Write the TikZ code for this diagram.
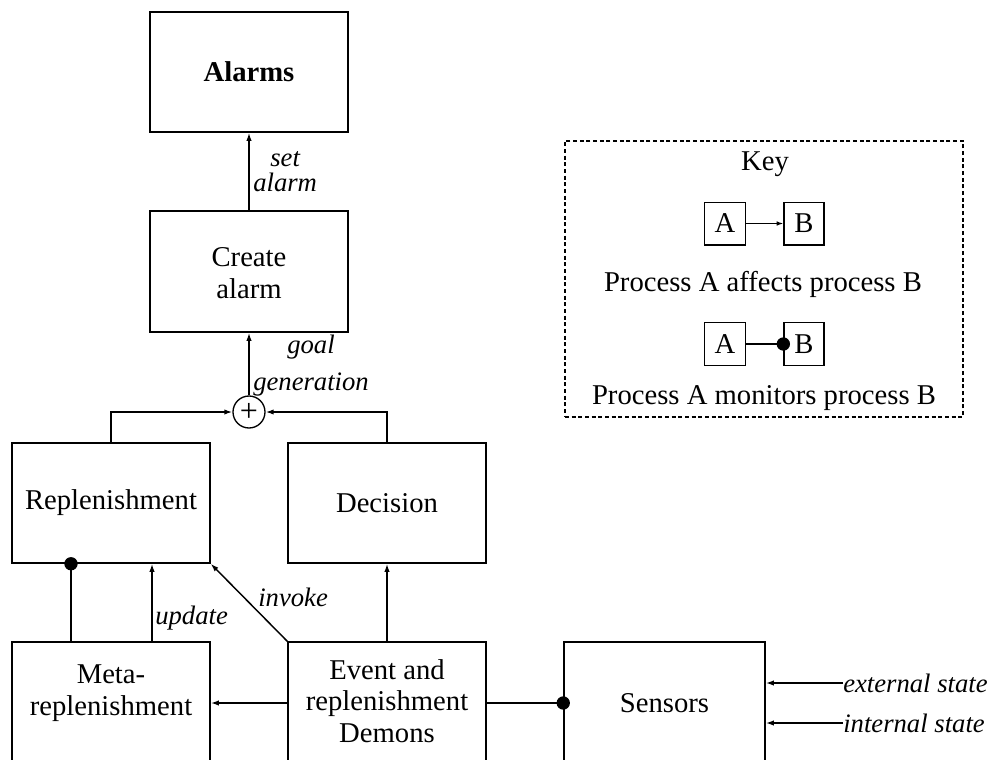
\documentclass[tikz,border=0pt]{standalone}
\usepackage{fontspec}
\setmainfont{Liberation Serif}
\usetikzlibrary{arrows.meta}
\begin{document}
\begin{tikzpicture}[x=0.75pt,y=-0.75pt,
  every node/.style={font=\fontsize{21.5}{24}\selectfont},
  box/.style={draw, line width=1.15pt, inner sep=0pt, minimum width=148.5pt, minimum height=90pt},
  keybox/.style={draw, line width=1pt, inner sep=0pt, minimum width=31pt, minimum height=32pt},
  txt/.style={align=center, inner sep=0pt},
  lbl/.style={font=\fontsize{20}{18.75}\selectfont\itshape, align=center, inner sep=0pt},
  wire/.style={line width=1.1pt},
  arr/.style={wire, -{Latex[length=6pt,width=4pt]}},
  dot/.style={circle, fill, inner sep=0pt, minimum size=10pt},
]
\useasboundingbox (0,0) rectangle (989,760);
\clip (0,0) rectangle (989,760);

% process boxes
\node[box] (alarms) at (249,72) {\textbf{Alarms}};
\node[box, minimum height=90.75pt] (create) at (249,271.5) {};
\node[txt] (createtxt) at (249,273) {Create\\alarm};
\node[box] (repl) at (111,503) {Replenishment};
\node[box] (dec) at (387,503) {Decision};
\node[box, minimum height=118.5pt] (meta) at (111,721) {};
\node[txt] (metatxt) at (111,693) {Meta-\\replenishment};
\node[box, minimum height=118.5pt] (event) at (387,721) {};
\node[txt, font=\fontsize{21.5}{23.5}\selectfont] (eventtxt) at (387,701) {Event and\\replenishment\\Demons};
\node[box, minimum width=150.75pt, minimum height=118.5pt] (sensors) at (664.5,721) {};
\node[txt] (sensorstxt) at (664.5,703) {Sensors};

% summing junction
\node[draw, circle, line width=1pt, minimum size=24pt, inner sep=0pt, font=\fontsize{24}{24}\selectfont] (plus) at (249,412) {+};

% helper coordinates
\coordinate (hy) at (0,703);
\coordinate (mx1) at (71,0);
\coordinate (mx2) at (152,0);

% connectors
\draw[arr] (create.north) -- (alarms.south);
\node[lbl, anchor=west] (setalarm) at (253,172) {set\\alarm};
\draw[arr] (plus.north) -- (create.south);
\node[lbl, anchor=west, font=\fontsize{20}{27.75}\selectfont\itshape] (goalgen) at (253,366) {goal\\generation};
\draw[arr] (repl.north) |- (plus.west);
\draw[arr] (dec.north) |- (plus.east);

\draw[wire] (meta.north -| mx1) -- (repl.south -| mx1);
\node[dot] (d1) at (repl.south -| mx1) {};
\draw[arr] (meta.north -| mx2) -- (repl.south -| mx2);
\node[lbl, anchor=west] (update) at (155,618) {update};
\draw[arr] (event.north west) -- (repl.south east);
\node[lbl, anchor=west] (invoke) at (258,597) {invoke};
\draw[arr] (event.north) -- (dec.south);
\draw[arr] (event.west |- hy) -- (meta.east |- hy);
\draw[wire] (event.east |- hy) -- (sensors.west |- hy);
\node[dot] (d2) at (sensors.west |- hy) {};

\node[lbl, anchor=west] (ext) at (843,683) {external state};
\node[lbl, anchor=west] (int) at (843,723) {internal state};
\draw[arr] (ext.west) -- (sensors.east |- ext.west);
\draw[arr] (int.west) -- (sensors.east |- int.west);

% key
\node[draw, dash pattern=on 3pt off 2pt, line width=0.9pt, minimum width=298.5pt, minimum height=207pt, inner sep=0pt] (key) at (764,279) {};
\node[txt] (keytitle) at (765,164) {Key};
\node[keybox] (a1) at (725,223.5) {A};
\node[keybox, minimum width=30pt] (b1) at (804,223.5) {B};
\draw[wire, line width=1pt, -{Latex[length=5pt,width=3.5pt]}] (a1.east) -- (b1.west);
\node[txt] (affects) at (763,284) {Process A affects process B};
\node[keybox] (a2) at (725,344) {A};
\node[keybox, minimum width=30pt] (b2) at (804,344) {B};
\draw[wire, line width=1pt] (a2.east) -- (b2.west);
\node[dot] (d3) at (b2.west) {};
\node[txt] (monitors) at (764,398) {Process A monitors process B};
\end{tikzpicture}
\end{document}
